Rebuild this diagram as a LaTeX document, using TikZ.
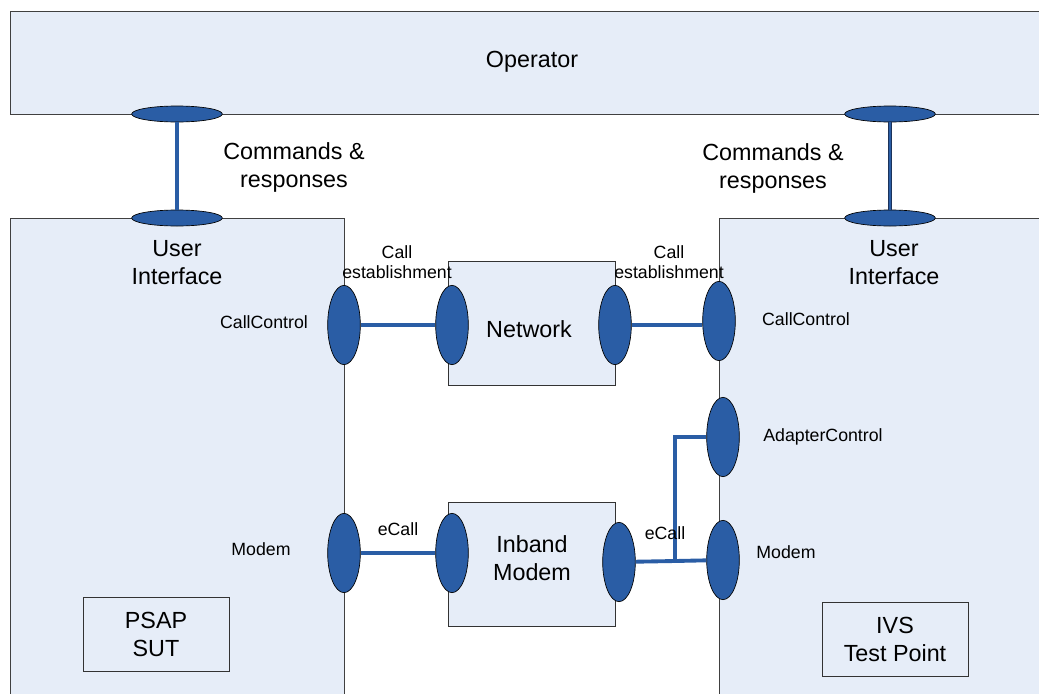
\documentclass[tikz,border=0pt]{standalone}
\usepackage{fontspec}
\setmainfont{Liberation Sans}
\usepackage{tikz}
\usetikzlibrary{positioning,shapes.geometric}
\definecolor{panelfill}{RGB}{230,237,248}
\definecolor{portblue}{RGB}{42,93,165}
\definecolor{linkdark}{RGB}{28,50,90}
\newcommand{\bigtxt}{\fontsize{17.5}{21}\selectfont}
\newcommand{\smalltxt}{\fontsize{13.3}{15}\selectfont}

\begin{document}
\begin{tikzpicture}[x=0.75pt,y=-0.75pt,
    panel/.style={draw=black!75,line width=0.9pt,fill=panelfill,inner sep=0pt},
    unit/.style={draw=black!80,line width=0.7pt,fill=panelfill,inner sep=0pt,
      minimum width=125.25pt,minimum height=93pt},
    tag/.style={draw=black!80,line width=0.7pt,fill=panelfill,inner sep=0pt,
      minimum width=109.5pt,minimum height=55.5pt,align=center,font=\bigtxt},
    hport/.style={ellipse,draw=black,line width=0.5pt,fill=portblue,inner sep=0pt,
      minimum width=68pt,minimum height=12pt},
    vport/.style={ellipse,draw=black,line width=0.5pt,fill=portblue,inner sep=0pt,
      minimum width=24.5pt,minimum height=59.5pt},
    link/.style={draw=portblue,line width=2.9pt},
    darklink/.style={draw=linkdark,double=portblue,double distance=1.2pt,line width=0.7pt},
    big/.style={font=\bigtxt,align=center,inner sep=0pt},
    small/.style={font=\smalltxt,align=center,inner sep=0pt}]
    \useasboundingbox (0,0) rectangle (1039,693);
    \clip (0,0) rectangle (1039,693);
    \fill[white] (0,0) rectangle (1039,693);

    % operator and the two systems
    \node[panel,anchor=north west,minimum width=783pt,minimum height=77.25pt,font=\bigtxt]
      (operator) at (10,11) {};
    \node[panel,anchor=north west,minimum width=250.5pt,minimum height=400pt] (psap) at (10,218) {};
    \node[panel,anchor=north west,minimum width=300pt,minimum height=400pt] (ivs) at (719,218) {};

    % network and inband modem in between
    \node[unit] (network) at (531.5,323) {};
    \node[unit] (inband) at (531.5,564.5) {};
    \node[tag] (psapsut) at (156,634) {PSAP\\SUT};
    \node[tag] (ivstp) at (895,639) {IVS\\Test Point};

    % ports
    \node[hport] (opL) at (177,114) {};
    \node[hport] (uiL) at (177,218) {};
    \node[hport] (opR) at (890,114) {};
    \node[hport] (uiR) at (890,218) {};
    \node[vport] (ccL) at (344,325) {};
    \node[vport] (netL) at (452,325) {};
    \node[vport] (netR) at (615,325) {};
    \node[vport] (ccR) at (719,321) {};
    \node[vport] (modemL) at (344,553) {};
    \node[vport] (inL) at (452,553) {};
    \node[vport] (inR) at (619,562) {};
    \node[vport] (adapt) at (723,437) {};
    \node[vport] (modemR) at (723,560) {};
    \coordinate (split) at (675,561);

    % links
    \draw[link] (opL) -- (uiL);
    \draw[darklink] (opR) -- (uiR);
    \draw[link] (ccL) -- (netL);
    \draw[link] (netR) -- (netR -| ccR.west);
    \draw[link] (modemL) -- (inL);
    \draw[link] (inR) -- (split) -- (modemR);
    \draw[link] (split) |- (adapt);

    % labels
    \node[big] (optxt) at (532,62) {Operator};
    \node[big] (nettxt) at (529,329) {Network};
    \node[big] (inbandtxt) at (532,558) {Inband\\Modem};
    \node[big] (cmdL) at (294,167) {Commands \&\\responses};
    \node[big] (cmdR) at (773,168) {Commands \&\\responses};
    \node[big] (userL) at (177,263) {User\\Interface};
    \node[big] (userR) at (894,263) {User\\Interface};
    \node[small] (estL) at (397,262) {Call\\establishment};
    \node[small] (estR) at (669,262) {Call\\establishment};
    \node[small] (ccLtxt) at (264,322) {CallControl};
    \node[small] (ccRtxt) at (806,319) {CallControl};
    \node[small] (adapttxt) at (823,437) {AdapterControl};
    \node[small] (modemLtxt) at (261,549) {Modem};
    \node[small] (modemRtxt) at (786,552) {Modem};
    \node[small] (ecallL) at (398,529) {eCall};
    \node[small] (ecallR) at (665,533) {eCall};
  \end{tikzpicture}
\end{document}
